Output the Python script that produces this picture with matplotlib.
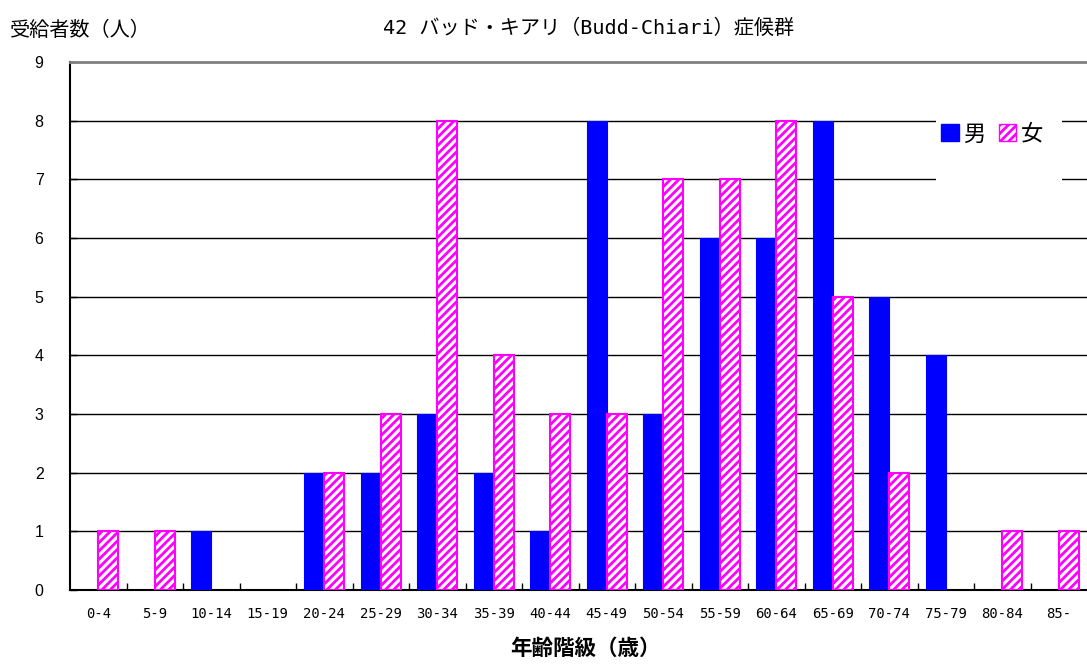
import numpy as np
import matplotlib
matplotlib.use("Agg")
import matplotlib.pyplot as plt
from matplotlib.patches import Patch, Rectangle

plt.rcParams['font.family'] = ['Noto Sans CJK JP', 'DejaVu Sans']
plt.rcParams['hatch.linewidth'] = 2.0

# 年齢階級ごとの受給者数
age_groups = ["0-4", "5-9", "10-14", "15-19", "20-24", "25-29", "30-34", "35-39",
              "40-44", "45-49", "50-54", "55-59", "60-64", "65-69", "70-74",
              "75-79", "80-84", "85-"]
male = [0, 0, 1, 0, 2, 2, 3, 2, 1, 8, 3, 6, 6, 8, 5, 4, 0, 0]
female = [1, 1, 0, 0, 2, 3, 8, 4, 3, 3, 7, 7, 8, 5, 2, 0, 1, 1]

x = np.arange(len(age_groups))
w = 0.35
mono = ['DejaVu Sans Mono', 'Noto Sans CJK JP']

W, H = 1087, 666
fig = plt.figure(figsize=(W / 100, H / 100), dpi=100)
ax = fig.add_axes([70 / W, 1 - 590 / H, 1 - 70 / W, (590 - 62) / H])

ax.bar(x - w / 2, male, w, color="#0000FF", edgecolor="#0000FF",
       linewidth=[0.8 if v else 0 for v in male], zorder=3)
ax.bar(x + w / 2, female, w, color="white", edgecolor="#FF00FF", hatch="////",
       linewidth=[1.5 if v else 0 for v in female], zorder=3)

ax.set_xlim(-0.5, len(age_groups) - 0.5)
ax.set_ylim(0, 9)

# 横の目盛線
for yv in range(1, 9):
    ax.axhline(yv, color="black", linewidth=1, zorder=1)

ax.set_yticks(range(0, 10))
ax.set_yticklabels([str(v) for v in range(0, 10)], family="Liberation Sans", fontsize=11.5)
ax.tick_params(axis="y", direction="in", length=5, pad=19, width=1)

ax.set_xticks(x)
ax.set_xticklabels(age_groups, fontsize=10, family=mono)
ax.tick_params(axis="x", which="major", length=0, pad=12)
ax.set_xticks(np.arange(0.5, len(age_groups) - 0.5, 1), minor=True)
ax.tick_params(axis="x", which="minor", direction="in", length=5, width=1)

for s in ["left", "bottom"]:
    ax.spines[s].set_color("black")
    ax.spines[s].set_linewidth(1.5)
ax.spines["top"].set_color("#808080")
ax.spines["top"].set_linewidth(2)
ax.spines["right"].set_visible(False)

# 凡例の白い背景
fig.patches.append(Rectangle((936 / W, 1 - 186 / H), 126 / W, 72 / H,
                             transform=fig.transFigure, facecolor="white",
                             edgecolor="none", zorder=4))

handles = [Patch(facecolor="#0000FF", edgecolor="#0000FF", label="男"),
           Patch(facecolor="white", edgecolor="#FF00FF", hatch="////", label="女")]
leg = fig.legend(handles=handles, loc="center", bbox_to_anchor=(992 / W, 1 - 134 / H),
                 ncol=2, frameon=False, fontsize=16, handlelength=0.8, handleheight=0.8,
                 handletextpad=0.2, columnspacing=0.6)
leg.set_zorder(6)

fig.text(0.541, 1 - 28 / H, "42 バッド・キアリ（Budd-Chiari）症候群",
         ha="center", va="center", fontsize=14.5, family=mono)
fig.text(10 / W, 1 - 30 / H, "受給者数（人）", ha="left", va="center", fontsize=14.5)
fig.text(585 / W, 1 - 648 / H, "年齢階級（歳）", ha="center", va="center",
         fontsize=15.5, fontweight="bold")

fig.savefig("out.png", dpi=100)
